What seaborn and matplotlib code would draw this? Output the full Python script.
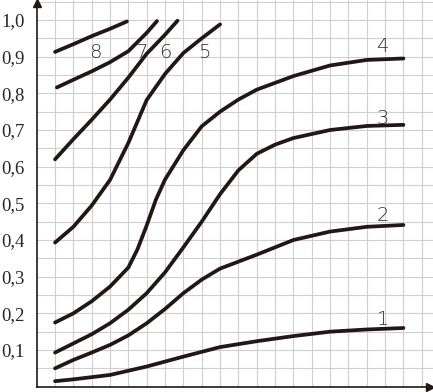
import numpy as np
import pandas as pd
import matplotlib
matplotlib.use("Agg")
import matplotlib.pyplot as plt
import seaborn as sns

# ---- data ----
x1 = [0.5, 1, 2, 3, 4, 5, 6, 7, 8, 9, 10]
y1 = [0.015, 0.020, 0.032, 0.055, 0.082, 0.108, 0.124, 0.138, 0.150, 0.156, 0.160]

x2 = [0.5, 1, 1.5, 2, 2.5, 3, 3.5, 4, 4.5, 5, 6, 7, 8, 9, 10]
y2 = [0.05, 0.073, 0.093, 0.114, 0.14, 0.173, 0.212, 0.255, 0.292, 0.322, 0.36, 0.40, 0.423, 0.436, 0.441]

x3 = [0.5, 1, 1.5, 2, 2.5, 3, 3.5, 4, 4.5, 5, 5.5, 6, 6.5, 7, 8, 9, 10]
y3 = [0.093, 0.118, 0.143, 0.173, 0.21, 0.255, 0.312, 0.38, 0.45, 0.525, 0.59, 0.635, 0.66, 0.678, 0.70, 0.711, 0.714]

x4 = [0.5, 1, 1.5, 2, 2.5, 2.75, 3, 3.25, 3.5, 4, 4.5, 5, 5.5, 6, 7, 8, 9, 10]
y4 = [0.175, 0.2, 0.233, 0.273, 0.325, 0.375, 0.44, 0.51, 0.565, 0.645, 0.71, 0.75, 0.783, 0.81, 0.847, 0.876, 0.891, 0.895]

x5 = [0.5, 1, 1.5, 2, 2.5, 3, 3.5, 4, 4.5, 5]
y5 = [0.393, 0.436, 0.494, 0.564, 0.665, 0.782, 0.853, 0.91, 0.95, 0.988]

x6 = [0.5, 1, 1.5, 2, 2.5, 3, 3.5, 3.84]
y6 = [0.62, 0.675, 0.728, 0.783, 0.843, 0.908, 0.96, 0.998]

x7 = [0.55, 1, 1.5, 2, 2.5, 3, 3.28]
y7 = [0.816, 0.837, 0.86, 0.885, 0.915, 0.965, 0.997]

x8 = [0.5, 1, 1.5, 2, 2.46]
y8 = [0.913, 0.934, 0.956, 0.976, 0.996]

curve_names = ["1", "2", "3", "4", "5", "6", "7", "8"]
label_x = [9.44, 9.45, 9.44, 9.44, 4.56, 3.50, 2.86, 1.59]
label_y = [0.182, 0.468, 0.732, 0.927, 0.912, 0.912, 0.910, 0.910]

ytick_vals = [0.1, 0.2, 0.3, 0.4, 0.5, 0.6, 0.7, 0.8, 0.9, 1.0]
ytick_labels = ["0,1", "0,2", "0,3", "0,4", "0,5", "0,6", "0,7", "0,8", "0,9", "1,0"]
xtick_vals = [1, 2, 3, 4, 5, 6, 7, 8, 9, 10]

xs = [x1, x2, x3, x4, x5, x6, x7, x8]
ys = [y1, y2, y3, y4, y5, y6, y7, y8]
df = pd.concat(
    [pd.DataFrame({"curve": n, "x": xx, "y": yy}) for n, xx, yy in zip(curve_names, xs, ys)],
    ignore_index=True,
)

# ---- figure ----
sns.set_style("white")
fig = plt.figure(figsize=(4.33, 3.92), dpi=100)
ax = fig.add_axes([0, 0, 1, 1])
ax.set_xlim(-1.001, 10.807)
ax.set_ylim(-0.0145, 1.0545)

# graph paper grid
grid_c = "#cfcfcf"
for gx in np.arange(0.5, 10.81, 0.5):
    ax.axvline(gx, ymin=0.0136, ymax=1.0, color=grid_c, lw=0.8, zorder=1)
for gy in np.arange(0.05, 1.06, 0.05):
    ax.axhline(gy, xmin=0.0848, xmax=1.0, color=grid_c, lw=0.8, zorder=1)

ink = "#221714"
sns.lineplot(data=df, x="x", y="y", units="curve", estimator=None, color=ink,
             lw=2.7, ax=ax, legend=False, zorder=3,
             solid_joinstyle="round", solid_capstyle="round")

for n, lx, ly in zip(curve_names, label_x, label_y):
    ax.text(lx, ly, n, ha="center", va="center", fontsize=14,
            family="DejaVu Sans", fontweight="light", color="#333333", zorder=4)

# axes
for s in ["top", "right"]:
    ax.spines[s].set_visible(False)
ax.spines["left"].set_position(("data", 0))
ax.spines["bottom"].set_position(("data", 0))
ax.spines["left"].set_bounds(0, 1.045)
ax.spines["bottom"].set_bounds(0, 10.7)
for s in ["left", "bottom"]:
    ax.spines[s].set_color(ink)
    ax.spines[s].set_linewidth(1.2)
    ax.spines[s].set_zorder(5)
ax.plot([0], [1.045], marker="^", color=ink, ms=6, clip_on=False, zorder=5)
ax.plot([10.72], [0], marker=">", color=ink, ms=6, clip_on=False, zorder=5)

ax.set_yticks(ytick_vals)
ax.set_yticklabels(ytick_labels, family="Liberation Serif", fontsize=13.5)
ax.set_xticks(xtick_vals)
ax.set_xticklabels([])
ax.tick_params(axis="y", direction="inout", length=5, width=1.2, color=ink, pad=6)
ax.tick_params(axis="x", direction="inout", length=5, width=1.2, color=ink)
ax.set_xlabel("")
ax.set_ylabel("")

fig.savefig("out.png", dpi=100)
